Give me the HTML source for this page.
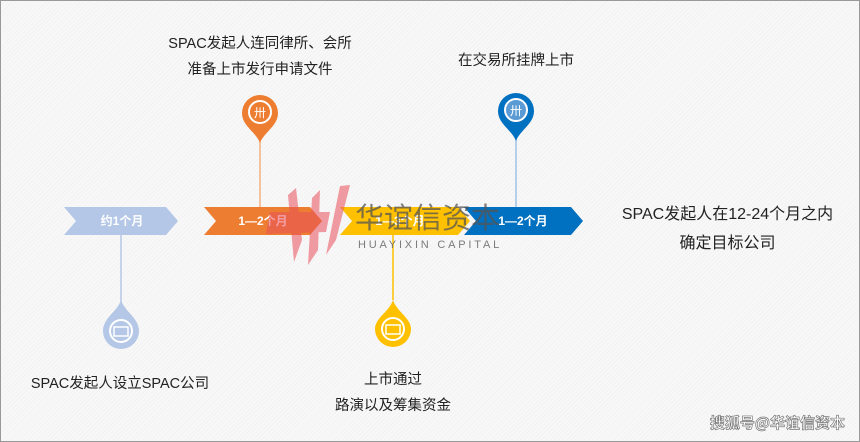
<!DOCTYPE html>
<html><head><meta charset="utf-8"><style>
body{margin:0;width:860px;height:442px;overflow:hidden;font-family:"Liberation Sans","Noto Sans CJK SC",sans-serif;}
.frame{position:absolute;left:0;top:0;width:858px;height:440px;border:1px solid #999;background:repeating-linear-gradient(135deg,#f8f8f8 0 2px,#f2f2f2 2px 3px);}
.t{position:absolute;font-size:14px;color:#222;text-align:center;line-height:26px;white-space:nowrap}
</style></head><body><div class="frame"></div>
<svg width="860" height="442" style="position:absolute;left:0;top:0">
<g font-family="Liberation Sans,Noto Sans CJK SC,sans-serif" font-weight="bold" font-size="12" fill="#fff" text-anchor="middle">
<line x1="121" y1="235" x2="121" y2="302" stroke="#b4c7e7" stroke-width="1.5"/>
<line x1="260" y1="140" x2="260" y2="207" stroke="#f4b183" stroke-width="1.5"/>
<line x1="393" y1="235" x2="393" y2="300" stroke="#ffc000" stroke-width="1.5"/>
<line x1="516" y1="138" x2="516" y2="207" stroke="#9dc3e6" stroke-width="1.5"/>
<polygon points="64,207 166,207 178,221 166,235 64,235 76,221" fill="#b4c7e7"/>
<text x="122" y="225">约1个月</text>
<polygon points="204,207 310,207 322,221 310,235 204,235 216,221" fill="#ed7d31"/>
<text x="263" y="225">1—2个月</text>
<polygon points="340,207 458,207 470,221 458,235 340,235 352,221" fill="#ffc000"/>
<text x="400" y="225">1—3个月</text>
<polygon points="464,207 571,207 583,221 571,235 464,235 476,221" fill="#0070c0"/>
<text x="523" y="225">1—2个月</text>
</g>
<path d="M260,143 C256,132 242,126 242,113 A18,18 0 1 1 278,113 C278,126 264,132 260,143Z" fill="#ed7d31"/>
<circle cx="260" cy="112" r="11" fill="none" stroke="#fff" stroke-width="2"/><text x="260" y="117" font-size="12" fill="#fff" text-anchor="middle">卅</text>
<path d="M516,141 C512,130 498,124 498,111 A18,18 0 1 1 534,111 C534,124 520,130 516,141Z" fill="#0070c0"/>
<circle cx="516" cy="110" r="11" fill="#5b9bd5" stroke="#fff" stroke-width="2"/><text x="516" y="115" font-size="12" fill="#fff" text-anchor="middle">卅</text>
<path d="M121,300 C125,312 139,318 139,331 A18,18 0 1 1 103,331 C103,318 117,312 121,300Z" fill="#b4c7e7"/>
<circle cx="121" cy="331" r="11" fill="none" stroke="#fff" stroke-width="2"/><rect x="114" y="327" width="14" height="9" fill="none" stroke="#fff" stroke-width="1.5"/>
<path d="M393,300 C397,312 411,318 411,329 A18,18 0 1 1 375,329 C375,318 389,312 393,300Z" fill="#ffc000"/>
<circle cx="393" cy="329" r="11" fill="none" stroke="#fff" stroke-width="2"/><rect x="386" y="325" width="14" height="9" fill="none" stroke="#fff" stroke-width="1.5"/>
<g fill="#e8505b" opacity="0.55">
<polygon points="288,195 296,188 302,240 294,262"/>
<polygon points="312,198 320,190 318,250 308,265"/>
<polygon points="340,186 350,185 336,240 326,255"/>
<polygon points="270,212 330,212 326,232 266,234"/>
</g>
<text x="355" y="228" font-size="29" fill="#555" opacity="0.75" font-family="Noto Sans CJK SC,sans-serif">华谊信资本</text>
<text x="358" y="248" font-size="11" fill="#666" letter-spacing="2.8" opacity="0.85">HUAYIXIN CAPITAL</text>
<text x="845" y="428" font-size="15" font-weight="bold" fill="#fff" stroke="#777" stroke-width="0.7" text-anchor="end" font-family="Noto Sans CJK SC,sans-serif">搜狐号@华谊信资本</text>
</svg>
<div class="t" style="left:160px;top:31px;width:200px;font-size:14.5px">SPAC发起人连同律所、会所<br>准备上市发行申请文件</div>
<div class="t" style="left:416px;top:48px;width:200px;font-size:14.5px">在交易所挂牌上市</div>
<div class="t" style="left:600px;top:200px;width:255px;font-size:16px;line-height:29px">SPAC发起人在12-24个月之内<br>确定目标公司</div>
<div class="t" style="left:20px;top:371px;width:200px;font-size:14.5px">SPAC发起人设立SPAC公司</div>
<div class="t" style="left:293px;top:367px;width:200px;font-size:14.5px">上市通过<br>路演以及筹集资金</div>
</body></html>
